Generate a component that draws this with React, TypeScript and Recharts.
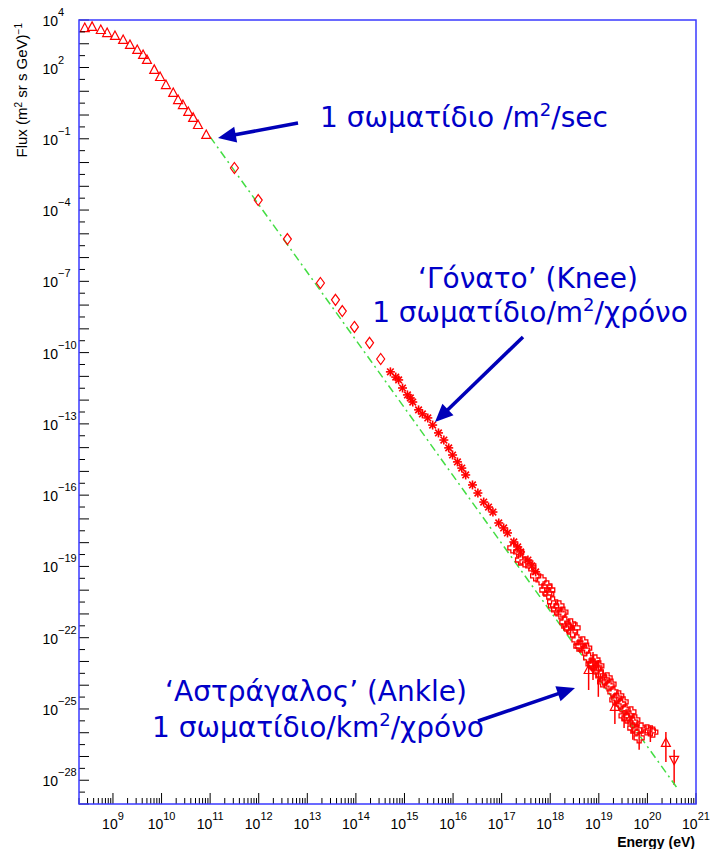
import { ScatterChart, Scatter, XAxis, YAxis, ErrorBar } from "recharts";

// direct measurements at low energy (open triangles)
const triEnergy = [2.63e8, 3.72e8, 5.62e8, 7.59e8, 1.1e9, 1.62e9, 2.24e9, 3.16e9, 4.17e9, 5.01e9, 7.08e9, 9.33e9, 1.23e10, 1.74e10, 2.19e10, 2.75e10, 3.55e10, 4.47e10, 5.62e10, 8.32e10];
const triFlux = [4.57e3, 5.13e3, 3.8e3, 2.82e3, 2.14e3, 1.45e3, 891, 550, 339, 209, 79.4, 39.8, 18.2, 8.51, 4.27, 2.63, 1.35, 0.76, 0.38, 0.145];

// open diamonds
const diaEnergy = [3.16e11, 9.77e11, 3.89e12, 1.86e13, 3.8e13, 5.25e13, 9.33e13, 1.91e14, 3.24e14];
const diaFlux = [5.89e-3, 2.63e-4, 6.03e-6, 8.51e-8, 1.66e-8, 5.62e-9, 1.2e-9, 2.57e-10, 5.37e-11];

// knee region (asterisks)
const kneeEnergy = [5.13e14, 6.61e14, 7.59e14, 9.12e14, 1.15e15, 1.32e15, 1.48e15, 1.95e15, 2.34e15, 3.02e15, 3.8e15, 5.01e15, 6.46e15, 8.13e15, 9.77e15, 1.23e16, 1.51e16, 1.82e16, 2.51e16, 3.24e16, 4.27e16, 5.37e16, 6.61e16, 8.71e16, 1.1e17, 1.32e17, 1.78e17, 2.14e17, 2.45e17, 3.47e17, 4.17e17, 5.01e17];
const kneeFlux = [1.55e-11, 9.33e-12, 7.08e-12, 3.24e-12, 1.66e-12, 1.23e-12, 8.32e-13, 3.89e-13, 2.63e-13, 1.78e-13, 8.91e-14, 4.17e-14, 2.09e-14, 9.77e-15, 4.9e-15, 2.51e-15, 1.38e-15, 7.08e-16, 2.69e-16, 1.23e-16, 5.13e-17, 3.16e-17, 1.95e-17, 6.76e-18, 4.17e-18, 2.57e-18, 1.07e-18, 6.61e-19, 4.07e-19, 1.86e-19, 1.05e-19, 5.89e-20];

// ankle region, air shower arrays (open crosses)
const ankleEnergy = [1.7e17, 2.24e17, 2.45e17, 3.02e17, 3.98e17, 5.01e17, 6.46e17, 7.76e17, 8.51e17, 9.33e17, 9.77e17, 1.12e18, 1.17e18, 1.35e18, 1.51e18, 1.66e18, 1.82e18, 2.0e18, 2.19e18, 2.4e18, 2.63e18, 2.88e18, 3.24e18, 3.55e18, 3.89e18, 4.27e18, 4.68e18, 5.13e18, 5.62e18, 6.17e18, 6.92e18, 7.59e18, 8.32e18, 9.12e18, 1.0e19, 1.1e19, 1.2e19, 1.32e19, 1.48e19, 1.62e19, 1.78e19, 1.95e19, 2.14e19, 2.34e19, 2.57e19, 2.82e19, 3.16e19, 3.47e19, 3.8e19, 4.17e19, 4.57e19, 5.01e19, 5.5e19, 6.03e19, 7.41e19, 9.77e19, 1.29e20];
const ankleFlux = [6.03e-19, 4.07e-19, 1.86e-19, 1.55e-19, 1.05e-19, 3.98e-20, 2.69e-20, 1.02e-20, 1.51e-20, 6.92e-21, 1.02e-20, 3.24e-21, 2.19e-21, 1.48e-21, 2.19e-21, 1.0e-21, 1.2e-21, 4.57e-22, 3.09e-22, 2.57e-22, 3.8e-22, 1.74e-22, 2.57e-22, 8.13e-23, 4.47e-23, 4.47e-23, 6.61e-23, 3.02e-23, 3.63e-23, 1.41e-23, 7.94e-24, 7.94e-24, 1.15e-23, 5.37e-24, 6.46e-24, 2.45e-24, 1.38e-24, 1.66e-24, 2.04e-24, 9.33e-25, 1.12e-24, 5.25e-25, 2.4e-25, 2.88e-25, 3.55e-25, 1.62e-25, 2.0e-25, 9.12e-26, 4.17e-26, 5.13e-26, 7.59e-26, 2.82e-26, 3.47e-26, 1.32e-26, 1.58e-26, 1.32e-26, 1.07e-26];

// points with error bars
const errTriEnergy = [6.17e18, 2.14e19, 2.4e20];
const errTriFlux = [4.37e-24, 1.23e-25, 3.72e-27];
const errTriLo = [6.3e-25, 2.34e-26, 5.89e-28];
const errTriHi = [7.9e-24, 2.4e-25, 1.07e-26];

const errInvEnergy = [3.55e20];
const errInvFlux = [7.24e-28];
const errInvLo = [6.3e-29];
const errInvHi = [1.91e-27];

const errBarEnergy = [7.59e18, 9.77e18, 3.31e19, 5.01e19, 6.76e19, 1.15e20];
const errBarFlux = [7.08e-24, 3.63e-24, 5.13e-26, 1.58e-26, 6.03e-27, 1.2e-26];
const errBarLo = [1.66e-24, 3.24e-25, 1.58e-26, 5.01e-27, 1.91e-27, 4.07e-27];
const errBarHi = [2.51e-23, 1.15e-23, 9.12e-26, 3.47e-26, 1.07e-26, 1.95e-26];

// power-law guide line (dash-dot)
const fitEnergy = [1.0e11, 4.07e20];
const fitFlux = [0.12, 4.79e-29];

const yLabelExps = [4, 2, -1, -4, -7, -10, -13, -16, -19, -22, -25, -28];

const pts = (xs: number[], ys: number[]) => xs.map((x, i) => ({ x, y: ys[i] }));
const errPts = (xs: number[], ys: number[], lo: number[], hi: number[]) =>
  xs.map((x, i) => ({ x, y: ys[i], err: [ys[i] - lo[i], hi[i] - ys[i]] }));

const xTicks: number[] = [];
for (let d = 8; d <= 20; d++) {
  for (let m = 1; m <= 9; m++) {
    const v = m * Math.pow(10, d);
    if (v >= 2e8) xTicks.push(v);
  }
}
xTicks.push(1e21);

const yTicks: number[] = [];
for (let k = 8; k >= -58; k--) yTicks.push(Math.pow(10, k / 2));

const RED = "#ff0000";
const FONT = "'Liberation Sans', Arial, sans-serif";

const Tri = (p: any) => (
  <polygon points={`${p.cx},${p.cy - 5} ${p.cx + 4.5},${p.cy + 3.5} ${p.cx - 4.5},${p.cy + 3.5}`} fill="none" stroke={RED} strokeWidth={1.2} />
);
const InvTri = (p: any) => (
  <polygon points={`${p.cx},${p.cy + 5} ${p.cx + 4.5},${p.cy - 3.5} ${p.cx - 4.5},${p.cy - 3.5}`} fill="none" stroke={RED} strokeWidth={1.2} />
);
const Diamond = (p: any) => (
  <polygon points={`${p.cx},${p.cy - 5.5} ${p.cx + 4},${p.cy} ${p.cx},${p.cy + 5.5} ${p.cx - 4},${p.cy}`} fill="none" stroke={RED} strokeWidth={1.2} />
);
const Star = (p: any) => {
  const { cx, cy } = p;
  return (
    <g stroke={RED} strokeWidth={1.6}>
      <line x1={cx - 4.5} x2={cx + 4.5} y1={cy} y2={cy} />
      <line x1={cx} x2={cx} y1={cy - 4.5} y2={cy + 4.5} />
      <line x1={cx - 3.3} x2={cx + 3.3} y1={cy - 3.3} y2={cy + 3.3} />
      <line x1={cx - 3.3} x2={cx + 3.3} y1={cy + 3.3} y2={cy - 3.3} />
    </g>
  );
};
const OpenCross = (p: any) => {
  const { cx, cy } = p;
  const a = 2;
  const b = 5;
  const d = `M${cx - a},${cy - b}H${cx + a}V${cy - a}H${cx + b}V${cy + a}H${cx + a}V${cy + b}H${cx - a}V${cy + a}H${cx - b}V${cy - a}H${cx - a}Z`;
  return <path d={d} fill="none" stroke={RED} strokeWidth={1.3} />;
};
const NoDot = () => <g />;

function XTick({ x, y, payload }: any) {
  const lg = Math.log10(payload.value);
  const e = Math.round(lg);
  const major = Math.abs(lg - e) < 1e-9;
  return (
    <g>
      <line x1={x} x2={x} y1={y} y2={y - (major ? 11 : 6)} stroke="#000" />
      {major && (
        <text x={x} y={y + 25} textAnchor="middle" fontSize={14} fontFamily={FONT} fill="#000">
          10<tspan dy={-9} fontSize={11}>{e}</tspan>
        </text>
      )}
    </g>
  );
}

function YTick({ x, y, payload }: any) {
  const lg = Math.log10(payload.value);
  const e = Math.round(lg);
  const major = Math.abs(lg - e) < 1e-6;
  return (
    <g>
      <line x1={x} x2={x + (major ? 10 : 6)} y1={y} y2={y} stroke="#000" />
      {major && yLabelExps.includes(e) && (
        <g fontFamily={FONT} fill="#000">
          <text x={x - 21} y={y + 6} textAnchor="end" fontSize={14}>10</text>
          <text x={x - 21} y={y - 4} textAnchor="start" fontSize={11}>{e < 0 ? `\u2212${-e}` : e}</text>
        </g>
      )}
    </g>
  );
}

function Arrow({ x1, y1, x2, y2 }: { x1: number; y1: number; x2: number; y2: number }) {
  const dx = x2 - x1;
  const dy = y2 - y1;
  const len = Math.hypot(dx, dy);
  const ux = dx / len;
  const uy = dy / len;
  const hl = 18;
  const hw = 8;
  const bx = x2 - ux * hl;
  const by = y2 - uy * hl;
  return (
    <g fill="#0000b8" stroke="#0000b8">
      <line x1={x1} y1={y1} x2={bx + ux * 2} y2={by + uy * 2} strokeWidth={3.5} />
      <polygon points={`${x2},${y2} ${bx - uy * hw},${by + ux * hw} ${bx + uy * hw},${by - ux * hw}`} stroke="none" />
    </g>
  );
}

const GREEK = "'DejaVu Sans', Verdana, sans-serif";

export default function App() {
  return (
    <div style={{ position: "absolute", left: 0, top: 0, width: 719, height: 849, background: "#fff" }}>
      <ScatterChart width={719} height={849} margin={{ top: 20, right: 23, left: 0, bottom: 0 }}>
        <XAxis
          type="number"
          dataKey="x"
          scale="log"
          domain={[2e8, 1e21]}
          allowDataOverflow
          ticks={xTicks}
          interval={0}
          tick={<XTick />}
          tickLine={false}
          tickSize={0}
          tickMargin={0}
          axisLine={false}
          height={45}
        />
        <YAxis
          type="number"
          dataKey="y"
          scale="log"
          domain={[1e-29, 1e4]}
          allowDataOverflow
          ticks={yTicks}
          interval={0}
          tick={<YTick />}
          tickLine={false}
          tickSize={0}
          tickMargin={0}
          axisLine={false}
          width={79}
        />
        <Scatter
          data={pts(fitEnergy, fitFlux)}
          line={{ stroke: "#44dd44", strokeWidth: 1.5, strokeDasharray: "8 4 2 4" }}
          shape={NoDot}
          isAnimationActive={false}
        />
        <Scatter data={pts(triEnergy, triFlux)} shape={Tri} isAnimationActive={false} />
        <Scatter data={pts(diaEnergy, diaFlux)} shape={Diamond} isAnimationActive={false} />
        <Scatter data={pts(kneeEnergy, kneeFlux)} shape={Star} isAnimationActive={false} />
        <Scatter data={pts(ankleEnergy, ankleFlux)} shape={OpenCross} isAnimationActive={false} />
        <Scatter data={errPts(errBarEnergy, errBarFlux, errBarLo, errBarHi)} shape={OpenCross} isAnimationActive={false}>
          <ErrorBar dataKey="err" direction="y" width={0} stroke={RED} strokeWidth={1.5} isAnimationActive={false} />
        </Scatter>
        <Scatter data={errPts(errTriEnergy, errTriFlux, errTriLo, errTriHi)} shape={Tri} isAnimationActive={false}>
          <ErrorBar dataKey="err" direction="y" width={0} stroke={RED} strokeWidth={1.5} isAnimationActive={false} />
        </Scatter>
        <Scatter data={errPts(errInvEnergy, errInvFlux, errInvLo, errInvHi)} shape={InvTri} isAnimationActive={false}>
          <ErrorBar dataKey="err" direction="y" width={0} stroke={RED} strokeWidth={1.5} isAnimationActive={false} />
        </Scatter>
      </ScatterChart>
      <svg width={719} height={849} style={{ position: "absolute", left: 0, top: 0, pointerEvents: "none" }}>
        <rect x={79} y={20} width={617} height={784} fill="none" stroke="#3a3aff" strokeWidth={1.5} />
        <text transform="rotate(-90 27 23)" x={27} y={23} textAnchor="end" fontSize={15} fontFamily={FONT} fill="#000">
          Flux (m<tspan dy={-5} fontSize={10}>2</tspan>
          <tspan dy={5}> sr s GeV)</tspan>
          <tspan dy={-5} fontSize={10}>{"\u22121"}</tspan>
        </text>
        <text x={695} y={847} textAnchor="end" fontSize={14} fontWeight="bold" fontFamily={FONT} fill="#000">
          Energy (eV)
        </text>
        <g fontFamily={GREEK} fontSize={28} fill="#0000c8">
          <text x={320} y={127}>
            1 σωματίδιο /m<tspan dy={-11} fontSize={18}>2</tspan>
            <tspan dy={11}>/sec</tspan>
          </text>
          <text x={528} y={288} textAnchor="middle">‘Γόνατο’ (Knee)</text>
          <text x={530} y={322} textAnchor="middle">
            1 σωματίδιο/m<tspan dy={-11} fontSize={18}>2</tspan>
            <tspan dy={11}>/χρόνο</tspan>
          </text>
          <text x={316} y={701} textAnchor="middle">‘Αστράγαλος’ (Ankle)</text>
          <text x={318} y={737} textAnchor="middle">
            1 σωματίδιο/km<tspan dy={-11} fontSize={18}>2</tspan>
            <tspan dy={11}>/χρόνο</tspan>
          </text>
        </g>
        <Arrow x1={298} y1={123} x2={218} y2={138} />
        <Arrow x1={523} y1={337} x2={435} y2={422} />
        <Arrow x1={478} y1={721} x2={575} y2={688} />
      </svg>
    </div>
  );
}
